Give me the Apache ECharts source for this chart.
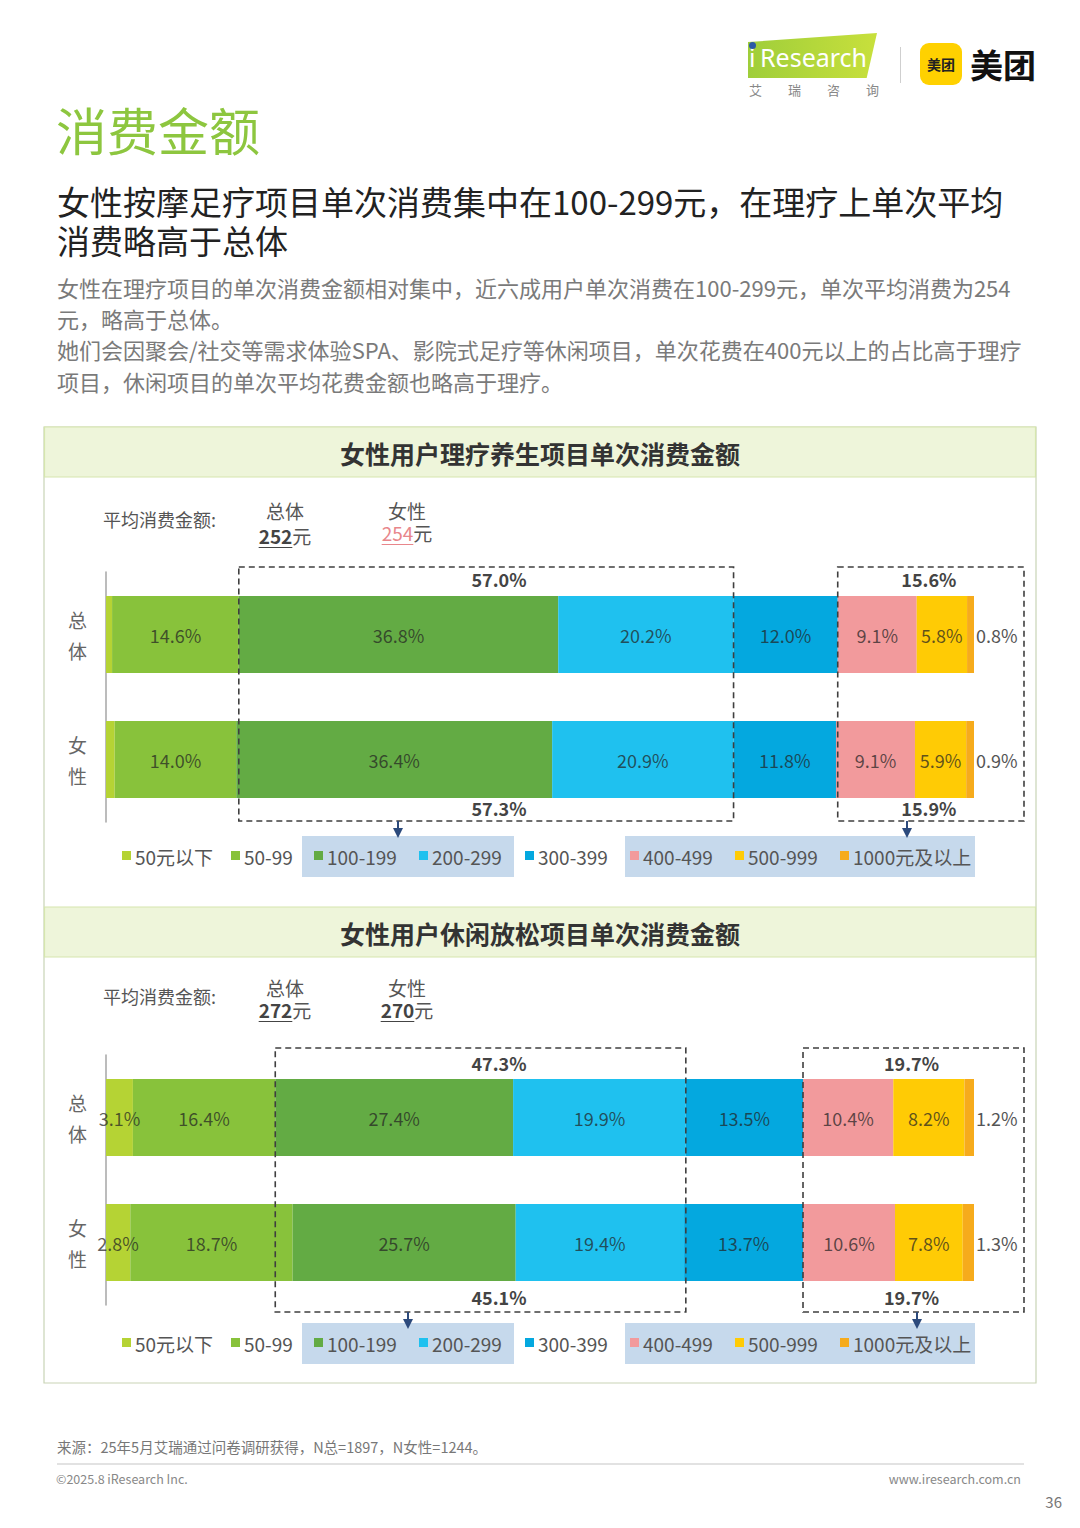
<!DOCTYPE html>
<html><head><meta charset="utf-8">
<script src="https://cdn.jsdelivr.net/npm/echarts@6/dist/echarts.min.js"></script>
<style>
body{margin:0;background:#fff;}
#page{position:relative;width:1080px;height:1528px;overflow:hidden;font-family:"Noto Sans CJK SC","Noto Sans",sans-serif;background:#fff;}
#chart{position:absolute;left:0;top:0;width:1080px;height:1528px;}
.t{position:absolute;white-space:nowrap;z-index:2;}
.u{text-decoration:underline;text-underline-offset:3px;}
.sub{position:absolute;left:57px;white-space:nowrap;z-index:2;font-size:33px;line-height:34px;color:#222;}
.body{position:absolute;left:57px;white-space:nowrap;z-index:2;font-size:22px;line-height:24px;color:#7a7a7a;}
.avg{position:absolute;width:80px;text-align:center;white-space:nowrap;z-index:2;font-size:19px;line-height:20px;color:#555;}
</style></head><body><div id="page">
<div id="chart"></div>

<!-- logos -->
<div class="t" style="left:748px;top:33px;width:129px;height:45px;background:linear-gradient(90deg,#9fce3a,#c8e03c);clip-path:polygon(0 20%,100% 0,92% 100%,0 100%);"></div>
<div class="t" style="left:749px;top:41px;font-family:'Noto Sans',sans-serif;font-size:25px;line-height:32px;color:#fff;">i</div>
<div class="t" style="left:760px;top:41px;font-family:'Noto Sans',sans-serif;font-size:25px;line-height:32px;color:#fff;">Research</div>
<div class="t" style="left:749px;top:42px;width:7px;height:7px;border-radius:50%;background:#2c5aa5;"></div>
<div class="t" style="left:749px;top:81px;font-size:13px;line-height:18px;color:#888;letter-spacing:26px;">艾瑞咨询</div>
<div class="t" style="left:900px;top:47px;width:1px;height:36px;background:#cfcfcf;"></div>
<div class="t" style="left:920px;top:43px;width:42px;height:42px;border-radius:9px;background:#ffd100;"></div>
<div class="t" style="left:920px;top:54px;width:42px;text-align:center;font-size:14px;line-height:20px;font-weight:bold;color:#222;">美团</div>
<div class="t" style="left:970px;top:44px;font-size:33px;line-height:40px;font-weight:bold;color:#111;">美团</div>

<!-- headings -->
<div class="t" style="left:56px;top:102px;font-size:51px;line-height:54px;color:#8dc63f;">消费金额</div>
<div class="sub" style="top:184px;">女性按摩足疗项目单次消费集中在100-299元，在理疗上单次平均</div>
<div class="sub" style="top:223px;">消费略高于总体</div>
<div class="body" style="top:275px;">女性在理疗项目的单次消费金额相对集中，近六成用户单次消费在100-299元，单次平均消费为254</div>
<div class="body" style="top:306px;">元，略高于总体。</div>
<div class="body" style="top:337px;">她们会因聚会/社交等需求体验SPA、影院式足疗等休闲项目，单次花费在400元以上的占比高于理疗</div>
<div class="body" style="top:369px;">项目，休闲项目的单次平均花费金额也略高于理疗。</div>

<!-- average spending -->
<div class="t" style="left:103px;top:509px;font-size:18px;line-height:20px;color:#555;">平均消费金额:</div>
<div class="avg" style="left:245px;top:501px;">总体</div>
<div class="avg" id="avg0a" style="left:245px;top:526px;"></div>
<div class="avg" style="left:367px;top:501px;">女性</div>
<div class="avg" id="avg0b" style="left:367px;top:523px;"></div>

<div class="t" style="left:103px;top:986px;font-size:18px;line-height:20px;color:#555;">平均消费金额:</div>
<div class="avg" style="left:245px;top:978px;">总体</div>
<div class="avg" id="avg1a" style="left:245px;top:1000px;"></div>
<div class="avg" style="left:367px;top:978px;">女性</div>
<div class="avg" id="avg1b" style="left:367px;top:1000px;"></div>

<!-- footer -->
<div class="t" style="left:57px;top:1437px;font-size:14.5px;line-height:20px;color:#777;">来源：25年5月艾瑞通过问卷调研获得，N总=1897，N女性=1244。</div>
<div class="t" style="left:57px;top:1463px;width:967px;height:2px;background:#e2e2e2;"></div>
<div class="t" style="left:56px;top:1470px;font-size:12.5px;line-height:18px;color:#888;">©2025.8 iResearch Inc.</div>
<div class="t" style="right:59px;top:1470px;font-size:12.5px;line-height:18px;color:#888;">www.iresearch.com.cn</div>
<div class="t" style="right:18px;top:1492px;font-size:15px;line-height:20px;color:#777;">36</div>
</div>

<script>
// ---------- data ----------
const categories = ['总体', '女性'];
const priceBands = ['50元以下', '50-99', '100-199', '200-299', '300-399', '400-499', '500-999', '1000元及以上'];
const therapyTotal  = [0.7, 14.6, 36.8, 20.2, 12.0, 9.1, 5.8, 0.8];
const therapyFemale = [1.0, 14.0, 36.4, 20.9, 11.8, 9.1, 5.9, 0.9];
const leisureTotal  = [3.1, 16.4, 27.4, 19.9, 13.5, 10.4, 8.2, 1.2];
const leisureFemale = [2.8, 18.7, 25.7, 19.4, 13.7, 10.6, 7.8, 1.3];
const therapyMidShare  = ['57.0%', '57.3%'];
const therapyHighShare = ['15.6%', '15.9%'];
const leisureMidShare  = ['47.3%', '45.1%'];
const leisureHighShare = ['19.7%', '19.7%'];
const therapyAvg = [252, 254];
const leisureAvg = [272, 270];
const chartTitles = ['女性用户理疗养生项目单次消费金额', '女性用户休闲放松项目单次消费金额'];

// ---------- styles / layout ----------
const bandColors = ['#b5d334', '#88c23b', '#63ab44', '#1fc1ef', '#04a8df', '#f29a9c', '#ffcb05', '#f6ab1c'];
const FONT = '"Noto Sans CJK SC","Noto Sans",sans-serif';

document.getElementById('avg0a').innerHTML = '<b class="u" style="color:#444">' + therapyAvg[0] + '</b>元';
document.getElementById('avg0b').innerHTML = '<span class="u" style="color:#e8868b;text-decoration-color:#e8868b">' + therapyAvg[1] + '</span>元';
document.getElementById('avg1a').innerHTML = '<b class="u" style="color:#444">' + leisureAvg[0] + '</b>元';
document.getElementById('avg1b').innerHTML = '<b class="u" style="color:#444">' + leisureAvg[1] + '</b>元';

const panels = [
  { gridTop: 572, headerY: 427, boxTop: 567, boxBottom: 821, labelY: [579, 808], legendY: 856,
    arrows: [398, 907], midX: 499, total: therapyTotal, female: therapyFemale,
    mid: therapyMidShare, high: therapyHighShare, hideFirst: true, title: chartTitles[0] },
  { gridTop: 1055, headerY: 907, boxTop: 1048, boxBottom: 1312, labelY: [1063, 1297], legendY: 1343,
    arrows: [408, 917], midX: 499, total: leisureTotal, female: leisureFemale,
    mid: leisureMidShare, high: leisureHighShare, hideFirst: false, title: chartTitles[1] }
];

const chart = echarts.init(document.getElementById('chart'), null, { renderer: 'svg' });

const grids = [], xAxes = [], yAxes = [], series = [];
panels.forEach((p, g) => {
  grids.push({ left: 106, top: p.gridTop, width: 868, height: 250 });
  xAxes.push({ type: 'value', gridIndex: g, min: 0, max: 100, show: false });
  yAxes.push({
    type: 'category', gridIndex: g, data: categories, inverse: true,
    axisLine: { show: true, lineStyle: { color: '#a6a6a6', width: 1.5 } },
    axisTick: { show: false },
    axisLabel: { formatter: v => v.split('').join('\n'), fontSize: 19, lineHeight: 31, color: '#666', margin: 19, fontFamily: FONT }
  });
  priceBands.forEach((name, i) => {
    const last = i === priceBands.length - 1;
    series.push({
      type: 'bar', name, stack: 'st' + g, xAxisIndex: g, yAxisIndex: g, barWidth: 77,
      data: [p.total[i], p.female[i]],
      itemStyle: { color: bandColors[i] },
      label: {
        show: !(p.hideFirst && i === 0),
        position: last ? 'right' : 'inside',
        distance: 2,
        formatter: o => o.value.toFixed(1) + '%',
        fontSize: 18, fontFamily: FONT,
        color: last ? '#555' : 'rgba(35,35,35,0.72)'
      }
    });
  });
});

chart.setOption({
  animation: false,
  grid: grids, xAxis: xAxes, yAxis: yAxes, series
});

const cum = (row, n) => row.slice(0, n).reduce((a, b) => a + b, 0);
const gfx = [];
// outer panel
gfx.push({ type: 'rect', z: -10, shape: { x: 44, y: 427, width: 992, height: 956 }, style: { fill: '#fff', stroke: '#c9d4b6', lineWidth: 1.2 } });
const legendXs = [122, 231, 314, 419, 525, 630, 735, 840];
panels.forEach((p, g) => {
  const px = v => chart.convertToPixel({ xAxisIndex: g }, v);
  // header band
  gfx.push({ type: 'rect', z: -9, shape: { x: 44.5, y: p.headerY, width: 991, height: 50 }, style: { fill: '#eef5da', stroke: '#d6e6ae', lineWidth: 1.2 } });
  gfx.push({ type: 'text', z: 5, style: { text: p.title, x: 540, y: p.headerY + 26, textAlign: 'center', textVerticalAlign: 'middle', fontSize: 25, fontWeight: 'bold', fontFamily: FONT, fill: '#333' } });
  // dashed group boxes
  const b1x0 = px(cum(p.total, 2)), b1x1 = px(cum(p.total, 4));
  const b2x0 = px(cum(p.total, 5)), b2x1 = 1024;
  const dash = { fill: 'none', stroke: '#3f3f3f', lineWidth: 1.6, lineDash: [6, 4] };
  gfx.push({ type: 'rect', z: 100, shape: { x: b1x0, y: p.boxTop, width: b1x1 - b1x0, height: p.boxBottom - p.boxTop }, style: dash });
  gfx.push({ type: 'rect', z: 100, shape: { x: b2x0, y: p.boxTop, width: b2x1 - b2x0, height: p.boxBottom - p.boxTop }, style: dash });
  const boldTxt = (text, x, y) => ({ type: 'text', z: 101, style: { text, x, y, textAlign: 'center', textVerticalAlign: 'middle', fontSize: 18, fontWeight: 'bold', fontFamily: FONT, fill: '#444' } });
  gfx.push(boldTxt(p.mid[0], p.midX, p.labelY[0]));
  gfx.push(boldTxt(p.mid[1], p.midX, p.labelY[1]));
  const hx = (b2x0 + b2x1) / 2 - 2;
  gfx.push(boldTxt(p.high[0], hx, p.labelY[0]));
  gfx.push(boldTxt(p.high[1], hx, p.labelY[1]));
  // arrows
  p.arrows.forEach(ax => {
    gfx.push({ type: 'line', z: 101, shape: { x1: ax, y1: p.boxBottom, x2: ax, y2: p.boxBottom + 9 }, style: { stroke: '#2c4a7c', lineWidth: 2 } });
    gfx.push({ type: 'polygon', z: 101, shape: { points: [[ax - 5, p.boxBottom + 7], [ax + 5, p.boxBottom + 7], [ax, p.boxBottom + 17]] }, style: { fill: '#2c4a7c' } });
  });
  // legend highlight backgrounds
  const ly = p.legendY;
  gfx.push({ type: 'rect', z: 1, shape: { x: 302, y: ly - 20, width: 212, height: 41 }, style: { fill: '#c6d9ec' } });
  gfx.push({ type: 'rect', z: 1, shape: { x: 625, y: ly - 20, width: 350, height: 41 }, style: { fill: '#c6d9ec' } });
  priceBands.forEach((name, i) => {
    const lx = legendXs[i];
    gfx.push({ type: 'rect', z: 2, shape: { x: lx, y: ly - 5, width: 9, height: 9 }, style: { fill: bandColors[i] } });
    gfx.push({ type: 'text', z: 2, style: { text: name, x: lx + 13, y: ly, textAlign: 'left', textVerticalAlign: 'middle', fontSize: 19, fontFamily: FONT, fill: '#555' } });
  });
});
chart.setOption({ graphic: { elements: gfx } });
</script>
</body></html>
